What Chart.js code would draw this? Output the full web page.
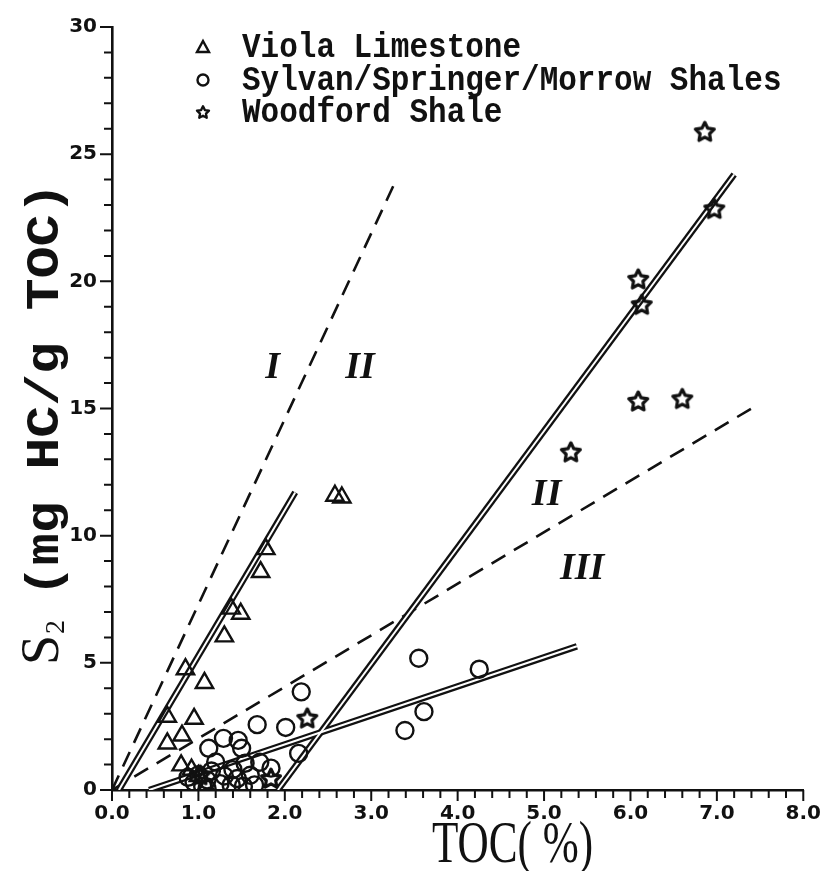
<!DOCTYPE html>
<html>
<head>
<meta charset="utf-8">
<script src="https://cdn.jsdelivr.net/npm/chart.js@4.4.0/dist/chart.umd.min.js"></script>
<style>
  html, body { margin: 0; padding: 0; background: #fff; }
</style>
</head>
<body>
<canvas id="chart" width="833" height="871"></canvas>
<script>
// values: TOC (%) vs S2 (mg HC/g TOC)
const violaToc = [1.78, 1.72, 1.38, 1.49, 1.30, 0.85, 1.07, 0.64, 0.95, 0.81, 0.64, 0.80, 0.92, 1.00, 2.58, 2.66];
const violaS2  = [9.47, 8.57, 7.13, 6.93, 6.04, 4.75, 4.21, 2.88, 2.80, 2.14, 1.83, 0.97, 0.80, 0.55, 11.57, 11.50];

const sylvanToc = [3.55, 4.25, 3.61, 3.39, 2.19, 1.68, 2.01, 2.16, 1.29, 1.46, 1.12, 1.50, 1.20, 1.54, 1.71, 1.60,
                   1.84, 0.95, 1.00, 1.05, 1.10, 1.15, 1.25, 1.30, 1.38, 1.45, 1.52, 1.65, 1.10, 0.88, 1.40];
const sylvanS2  = [5.18, 4.75, 3.08, 2.34, 3.86, 2.57, 2.46, 1.44, 2.03, 1.95, 1.64, 1.64, 1.10, 1.05, 1.09, 0.58,
                   0.86, 0.30, 0.60, 0.15, 0.40, 0.75, 0.25, 0.55, 0.20, 0.45, 0.15, 0.20, 0.05, 0.50, 0.80];

const woodToc = [6.86, 6.97, 6.09, 6.13, 6.09, 6.60, 5.31, 2.26, 1.84, 1.02];
const woodS2  = [25.9, 22.87, 20.1, 19.1, 15.3, 15.4, 13.3, 2.84, 0.47, 0.60];

// kerogen type boundaries (dashed)
const bound12Toc = [0, 3.29];
const bound12S2  = [0, 24.0];
const bound23Toc = [0, 7.4];
const bound23S2  = [0, 15.0];

// regression lines (double lines)
const violaFitToc  = [0.08, 2.12];
const violaFitS2   = [0, 11.7];
const sylvanFitToc = [0.43, 5.38];
const sylvanFitS2  = [0, 5.65];
const woodFitToc   = [1.92, 7.2];
const woodFitS2    = [0, 24.2];

// kerogen field labels
const fieldLabels = ['I', 'II', 'II', 'III'];
const fieldToc    = [1.86, 2.87, 5.03, 5.44];
const fieldS2     = [16.6, 16.6, 11.6, 8.7];

const xTicks = [0, 1, 2, 3, 4, 5, 6, 7, 8];
const yTicks = [0, 5, 10, 15, 20, 25, 30];

const legendNames = ['Viola Limestone', 'Sylvan/Springer/Morrow Shales', 'Woodford Shale'];

function pts(xs, ys) {
  return xs.map((x, i) => ({ x, y: ys[i] }));
}

function makeStar(size, lw) {
  const c = document.createElement('canvas');
  c.width = size; c.height = size;
  const g = c.getContext('2d');
  const cx = size / 2, cy = size / 2 + size * 0.04;
  const R = size / 2 - lw / 2 - 0.5, r = R * 0.5;
  g.beginPath();
  for (let i = 0; i < 10; i++) {
    const a = -Math.PI / 2 + i * Math.PI / 5;
    const rad = i % 2 ? r : R;
    g.lineTo(cx + rad * Math.cos(a), cy + rad * Math.sin(a));
  }
  g.closePath();
  g.lineWidth = lw;
  g.lineJoin = 'round';
  g.strokeStyle = '#111';
  g.stroke();
  return c;
}

const starBig = makeStar(24, 3.2);
const starSmall = makeStar(16, 2.4);

const pointBase = {
  showLine: false,
  pointBackgroundColor: 'rgba(0,0,0,0)',
  pointBorderColor: '#111',
  pointBorderWidth: 2.4,
  order: 1
};

function dashed(xs, ys) {
  return {
    data: pts(xs, ys), showLine: true, pointRadius: 0,
    borderColor: '#111', borderWidth: 2.6, borderDash: [16, 10], order: 3
  };
}

// double line = thick black stroke with a thin white core on top
function doubleLine(xs, ys) {
  return [
    { data: pts(xs, ys), showLine: true, pointRadius: 0, borderColor: '#fff', borderWidth: 2, borderCapStyle: 'butt', order: 2 },
    { data: pts(xs, ys), showLine: true, pointRadius: 0, borderColor: '#111', borderWidth: 6.5, borderCapStyle: 'butt', order: 3 }
  ];
}

const tickFont = { family: 'DejaVu Sans', weight: 'bold', size: 20 };

const decor = {
  id: 'decor',
  afterDraw(chart) {
    const { ctx, chartArea: a } = chart;
    const x = chart.scales.x, y = chart.scales.y;
    ctx.save();
    ctx.strokeStyle = '#111';
    ctx.lineWidth = 2;
    ctx.beginPath();
    for (let i = 0; i <= 40; i++) {
      const px = x.getPixelForValue(i / 5);
      const len = i % 5 === 0 ? 11 : 8;
      ctx.moveTo(px, a.bottom);
      ctx.lineTo(px, a.bottom + len);
    }
    for (let v = 0; v <= 30; v++) {
      const py = y.getPixelForValue(v);
      const len = v % 5 === 0 ? 12 : 8;
      ctx.moveTo(a.left - len, py);
      ctx.lineTo(a.left, py);
    }
    ctx.stroke();

    // field labels I / II / III
    ctx.fillStyle = '#111';
    ctx.font = 'italic bold 38px "Liberation Serif"';
    ctx.textAlign = 'center';
    ctx.textBaseline = 'middle';
    fieldLabels.forEach((t, i) => {
      ctx.fillText(t, x.getPixelForValue(fieldToc[i]), y.getPixelForValue(fieldS2[i]));
    });

    // legend
    const lx = 203, rows = [47, 80, 112];
    ctx.lineWidth = 2.4;
    ctx.beginPath();
    ctx.moveTo(lx, rows[0] - 6); ctx.lineTo(lx + 6, rows[0] + 5); ctx.lineTo(lx - 6, rows[0] + 5); ctx.closePath();
    ctx.stroke();
    ctx.beginPath();
    ctx.arc(lx, rows[1], 5.5, 0, Math.PI * 2);
    ctx.stroke();
    ctx.drawImage(starSmall, lx - 8, rows[2] - 8);
    ctx.textAlign = 'left';
    ctx.textBaseline = 'alphabetic';
    ctx.font = 'bold 31px "Liberation Mono"';
    legendNames.forEach((t, i) => {
      ctx.save();
      ctx.translate(242, rows[i] + 10);
      ctx.scale(1, 1.15);
      ctx.fillText(t, 0, 0);
      ctx.restore();
    });

    // x axis title
    ctx.save();
    ctx.translate(432, 862);
    ctx.scale(0.72, 1);
    ctx.font = '60px "Liberation Serif"';
    ctx.fillText('TOC( %)', 0, 0);
    ctx.restore();

    // y axis title
    ctx.save();
    ctx.translate(58, 665);
    ctx.rotate(-Math.PI / 2);
    ctx.font = '54px "Liberation Serif"';
    ctx.fillText('S', 0, 0);
    const sw = ctx.measureText('S').width;
    ctx.font = '28px "Liberation Serif"';
    ctx.fillText('2', sw + 1, 6);
    ctx.translate(68, 0);
    ctx.scale(1.13, 1);
    ctx.font = 'bold 47px "Liberation Mono"';
    ctx.fillText('(mg HC/g TOC)', 0, 0);
    ctx.restore();

    ctx.restore();
  }
};

new Chart(document.getElementById('chart'), {
  type: 'scatter',
  data: {
    datasets: [
      Object.assign({ data: pts(violaToc, violaS2), pointStyle: 'triangle', pointRadius: 10 }, pointBase),
      Object.assign({ data: pts(sylvanToc, sylvanS2), pointStyle: 'circle', pointRadius: 8.5 }, pointBase),
      Object.assign({ data: pts(woodToc, woodS2), pointStyle: starBig, pointRadius: 10 }, pointBase),
      dashed(bound12Toc, bound12S2),
      dashed(bound23Toc, bound23S2),
      ...doubleLine(violaFitToc, violaFitS2),
      ...doubleLine(sylvanFitToc, sylvanFitS2),
      ...doubleLine(woodFitToc, woodFitS2)
    ]
  },
  options: {
    responsive: false,
    animation: false,
    layout: { padding: { top: 20, right: 21, left: 0, bottom: 0 } },
    plugins: { legend: { display: false }, tooltip: { enabled: false } },
    scales: {
      x: {
        type: 'linear', min: 0, max: 8,
        afterFit: (s) => { s.height = 81; },
        afterBuildTicks: (s) => { s.ticks = xTicks.map(v => ({ value: v })); },
        ticks: { padding: 12, color: '#111', font: tickFont, autoSkip: false, maxRotation: 0,
                 callback: (v) => Number(v).toFixed(1) },
        grid: { display: false, drawTicks: false },
        border: { display: true, color: '#111', width: 2.6 }
      },
      y: {
        type: 'linear', min: 0, max: 30,
        afterFit: (s) => { s.width = 112; },
        afterBuildTicks: (s) => { s.ticks = yTicks.map(v => ({ value: v })); },
        ticks: { padding: 15, color: '#111', font: tickFont, autoSkip: false },
        grid: { display: false, drawTicks: false },
        border: { display: true, color: '#111', width: 2.6 }
      }
    }
  },
  plugins: [decor]
});
</script>
</body>
</html>
